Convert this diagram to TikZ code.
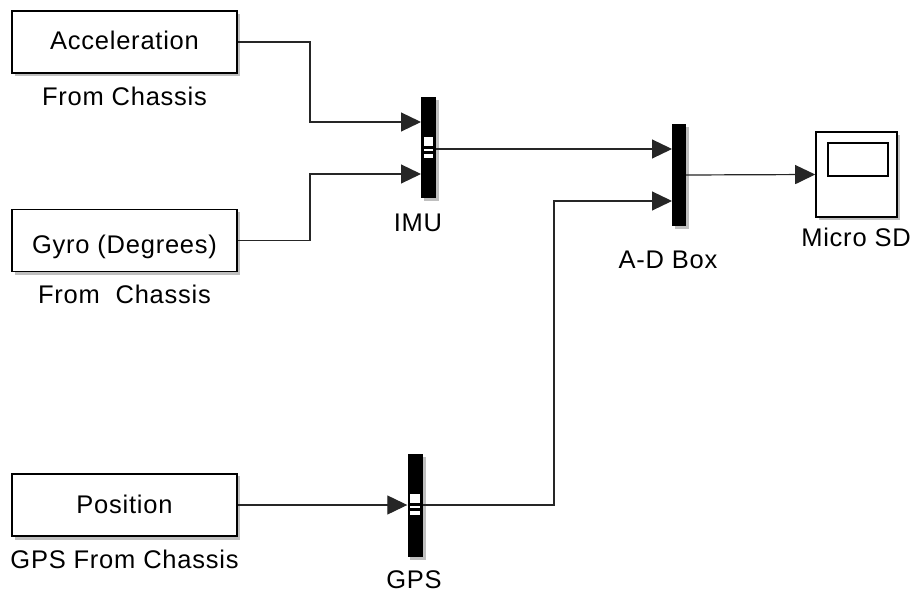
\documentclass[tikz,border=0pt]{standalone}
\usepackage{fontspec}
\setmainfont{Liberation Sans}[LetterSpace=3]
\usetikzlibrary{arrows.meta}
\begin{document}
\begin{tikzpicture}[x=1pt,y=-1pt,
  srcbox/.style={draw=black,line width=1.6pt,fill=white,minimum width=225pt,minimum height=62pt,inner sep=0pt},
  lbl/.style={font=\fontsize{25.5}{30}\selectfont,anchor=base,inner sep=0pt},
  muxbar/.style={fill=black,draw=none,minimum width=15pt,inner sep=0pt},
  shadowc/.style={fill=black!25},
  wire/.style={draw=black!85,line width=1.2pt},
  arr/.style={wire,-{Triangle[length=20pt,width=19pt]}}
]
\useasboundingbox (0,0) rectangle (912,593);
\fill[white] (0,0) rectangle (912,593);

% shadows
\fill[shadowc] (15,14) rectangle (240,76);
\fill[shadowc] (15,212) rectangle (240,275);
\fill[shadowc] (15,476) rectangle (240,540);
\fill[shadowc] (424,100) rectangle (439,201);
\fill[shadowc] (675,127) rectangle (689,229);
\fill[shadowc] (410,457) rectangle (426,560);
\fill[shadowc] (819,135) rectangle (900,220);

% source blocks
\node[srcbox] (acc) at (124.5,42) {};
\node[lbl] at (124.5,50) {Acceleration};
\node[lbl] (accl) at (124.5,106) {From Chassis};

\node[srcbox] (gyro) at (124.5,240.5) {};
\node[lbl] at (124.5,254) {Gyro (Degrees)};
\node[lbl] (gyrol) at (124.5,304) {From\ \ Chassis};

\node[srcbox] (pos) at (124.5,505) {};
\node[lbl] at (124.5,513) {Position};
\node[lbl] (posl) at (124.5,568) {GPS From Chassis};

% mux bars
\node[muxbar,minimum height=101pt] (imu) at (428.5,147.5) {};
\fill[white] (424,137) rectangle (433,146);
\fill[white] (424,149) rectangle (433,151);
\fill[white] (424,154) rectangle (433,158);
\node[lbl] (imul) at (418,232) {IMU};

\node[muxbar,minimum height=103pt] (gps) at (415,505.5) {};
\fill[white] (410,494) rectangle (420,503);
\fill[white] (410,506) rectangle (420,508);
\fill[white] (410,511) rectangle (420,515);
\node[lbl] (gpsl) at (414,588) {GPS};

\node[muxbar,minimum width=14pt,minimum height=102pt] (ad) at (679,175) {};
\node[lbl] (adl) at (668,269) {A-D Box};

% scope
\node[draw=black,line width=1.6pt,fill=white,minimum width=81pt,minimum height=85pt,inner sep=0pt] (sd) at (856.5,174.5) {};
\draw[black,line width=1.6pt] (828,143) rectangle (888,176);
\node[lbl] (sdl) at (856,247) {Micro SD};

% coordinates
\coordinate (imuin1) at (421,122);
\coordinate (imuin2) at (421,174);
\coordinate (adin1) at (672,149);
\coordinate (adin2) at (672,201);

% connectors
\draw[arr] (acc.east) -- (310,42) -- (310,122) -- (imuin1);
\draw[arr] (gyro.east) -- (310,240.5) -- (310,174) -- (imuin2);
\draw[arr] (imu.east |- 0,149) -- (adin1);
\draw[arr] (pos.east) -- (gps.west |- pos.east);
\draw[arr] (gps.east |- 0,505) -- (554,505) -- (554,201) -- (adin2);
\draw[arr] (ad.east) -- (sd.west);
\end{tikzpicture}
\end{document}
